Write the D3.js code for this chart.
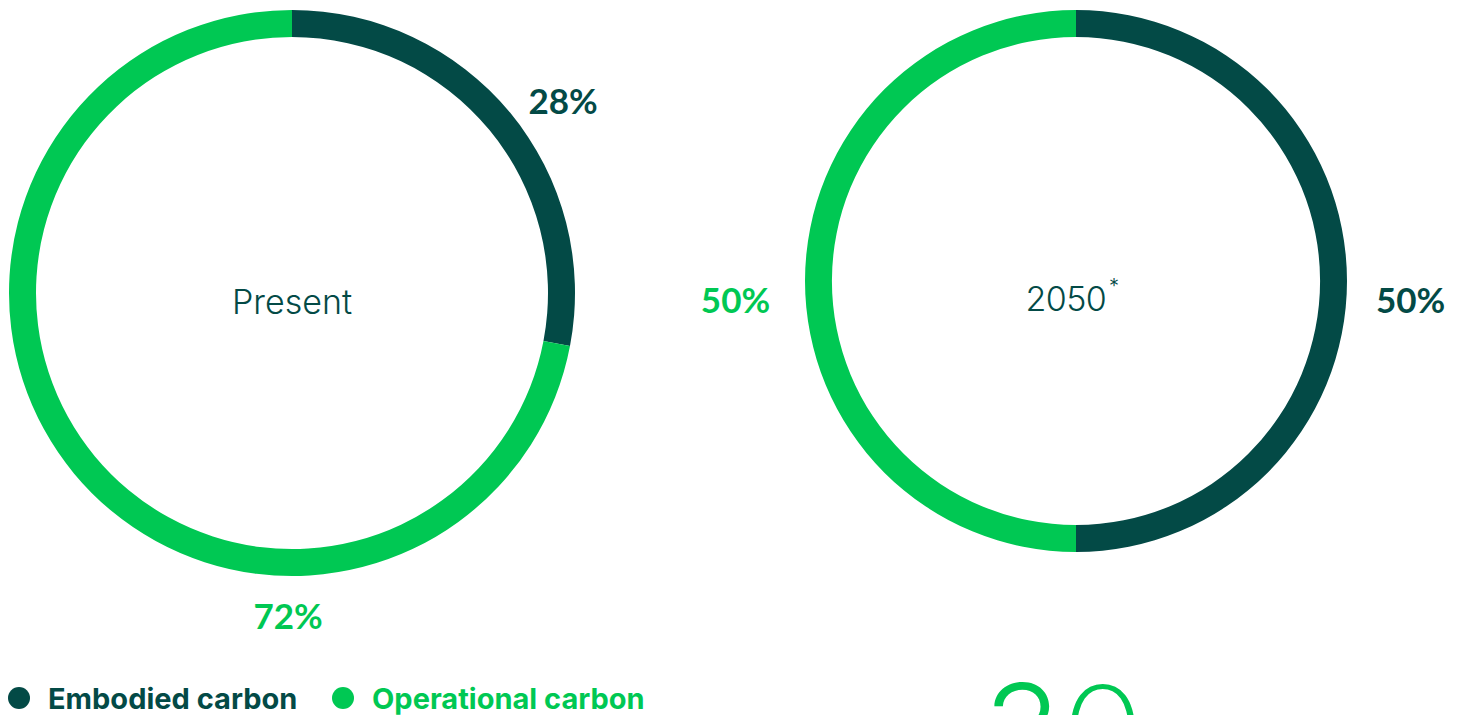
<!DOCTYPE html>
<html>
<head>
<meta charset="utf-8">
<script src="https://cdn.jsdelivr.net/npm/d3@7"></script>
<style>
  html, body { margin: 0; padding: 0; background: #ffffff; overflow: hidden; }
  svg { display: block; font-family: "Inter", "Lato", sans-serif; }
</style>
</head>
<body>
<svg id="chart" width="1467" height="715"></svg>
<script>
// Share of whole-life carbon: embodied vs operational
const categories = ["Embodied carbon", "Operational carbon"];
const presentValues = [28, 72];
const futureValues = [50, 50];
const ringTitles = ["Present", "2050"];
const bigFigure = ["3", "0"];

const colors = d3.scaleOrdinal().domain(categories).range(["#034a46", "#00c853"]);

const svg = d3.select("#chart");

const rings = [
  { title: ringTitles[0], values: presentValues, cx: 292, cy: 293, r: 283, thick: 27,
    labelAngles: [54.5, 180.7], labelDist: [333, 322], star: false },
  { title: ringTitles[1], values: futureValues, cx: 1076, cy: 281, r: 271, thick: 27,
    labelAngles: [93, 267], labelDist: [335, 341], star: true }
];

const pie = d3.pie().sort(null).value(d => d.value);

rings.forEach(ring => {
  const data = categories.map((c, i) => ({ cat: c, value: ring.values[i] }));
  const arcs = pie(data);
  const arc = d3.arc().innerRadius(ring.r - ring.thick).outerRadius(ring.r);
  const g = svg.append("g").attr("transform", `translate(${ring.cx},${ring.cy})`);

  g.selectAll("path.slice")
    .data(arcs)
    .join("path")
    .attr("class", "slice")
    .attr("d", arc)
    .attr("fill", d => colors(d.data.cat));

  // percentage labels around the ring
  g.selectAll("text.pct")
    .data(arcs)
    .join("text")
    .attr("class", "pct")
    .attr("x", (d, i) => ring.labelDist[i] * Math.sin(ring.labelAngles[i] * Math.PI / 180))
    .attr("y", (d, i) => -ring.labelDist[i] * Math.cos(ring.labelAngles[i] * Math.PI / 180))
    .attr("text-anchor", "middle")
    .attr("dominant-baseline", "central")
    .attr("font-family", "Lato, Inter, sans-serif")
    .attr("font-size", 35)
    .attr("font-weight", 700)
    .attr("fill", d => colors(d.data.cat))
    .text(d => `${d.data.value}%`);

  // centre title
  const t = g.append("text")
    .attr("x", ring.star ? -4 : 0)
    .attr("y", ring.star ? 17 : 8)
    .attr("text-anchor", "middle")
    .attr("dominant-baseline", "central")
    .attr("font-size", 34)
    .attr("font-weight", 300)
    .attr("letter-spacing", ring.star ? -0.6 : 0)
    .attr("fill", "#034a46");
  t.append("tspan").text(ring.title);
  if (ring.star) {
    t.append("tspan").attr("font-size", 20).attr("dy", -12).attr("dx", 3).text("*");
  }
});

// legend
const legend = svg.append("g").attr("transform", "translate(0,698)");
const legendX = [19, 343];
categories.forEach((c, i) => {
  const item = legend.append("g").attr("transform", `translate(${legendX[i]},0)`);
  item.append("circle").attr("r", 11).attr("fill", colors(c));
  item.append("text")
    .attr("x", 29)
    .attr("y", 0)
    .attr("dominant-baseline", "central")
    .attr("font-size", 29)
    .attr("font-weight", 700)
    .attr("fill", colors(c))
    .text(c);
});

// large figure at the foot of the page, cropped by the frame
const big = svg.append("text")
  .attr("x", 984)
  .attr("y", 775)
  .attr("font-size", 126)
  .attr("font-weight", 300)
  .attr("fill", "#00c853");
big.append("tspan").text(bigFigure[0]);
big.append("tspan").attr("dx", 6).attr("font-family", "Lato, sans-serif").attr("font-weight", 300).text(bigFigure[1]);
big.append("tspan").attr("font-size", 64).attr("dx", 12).text("%");
</script>
</body>
</html>
